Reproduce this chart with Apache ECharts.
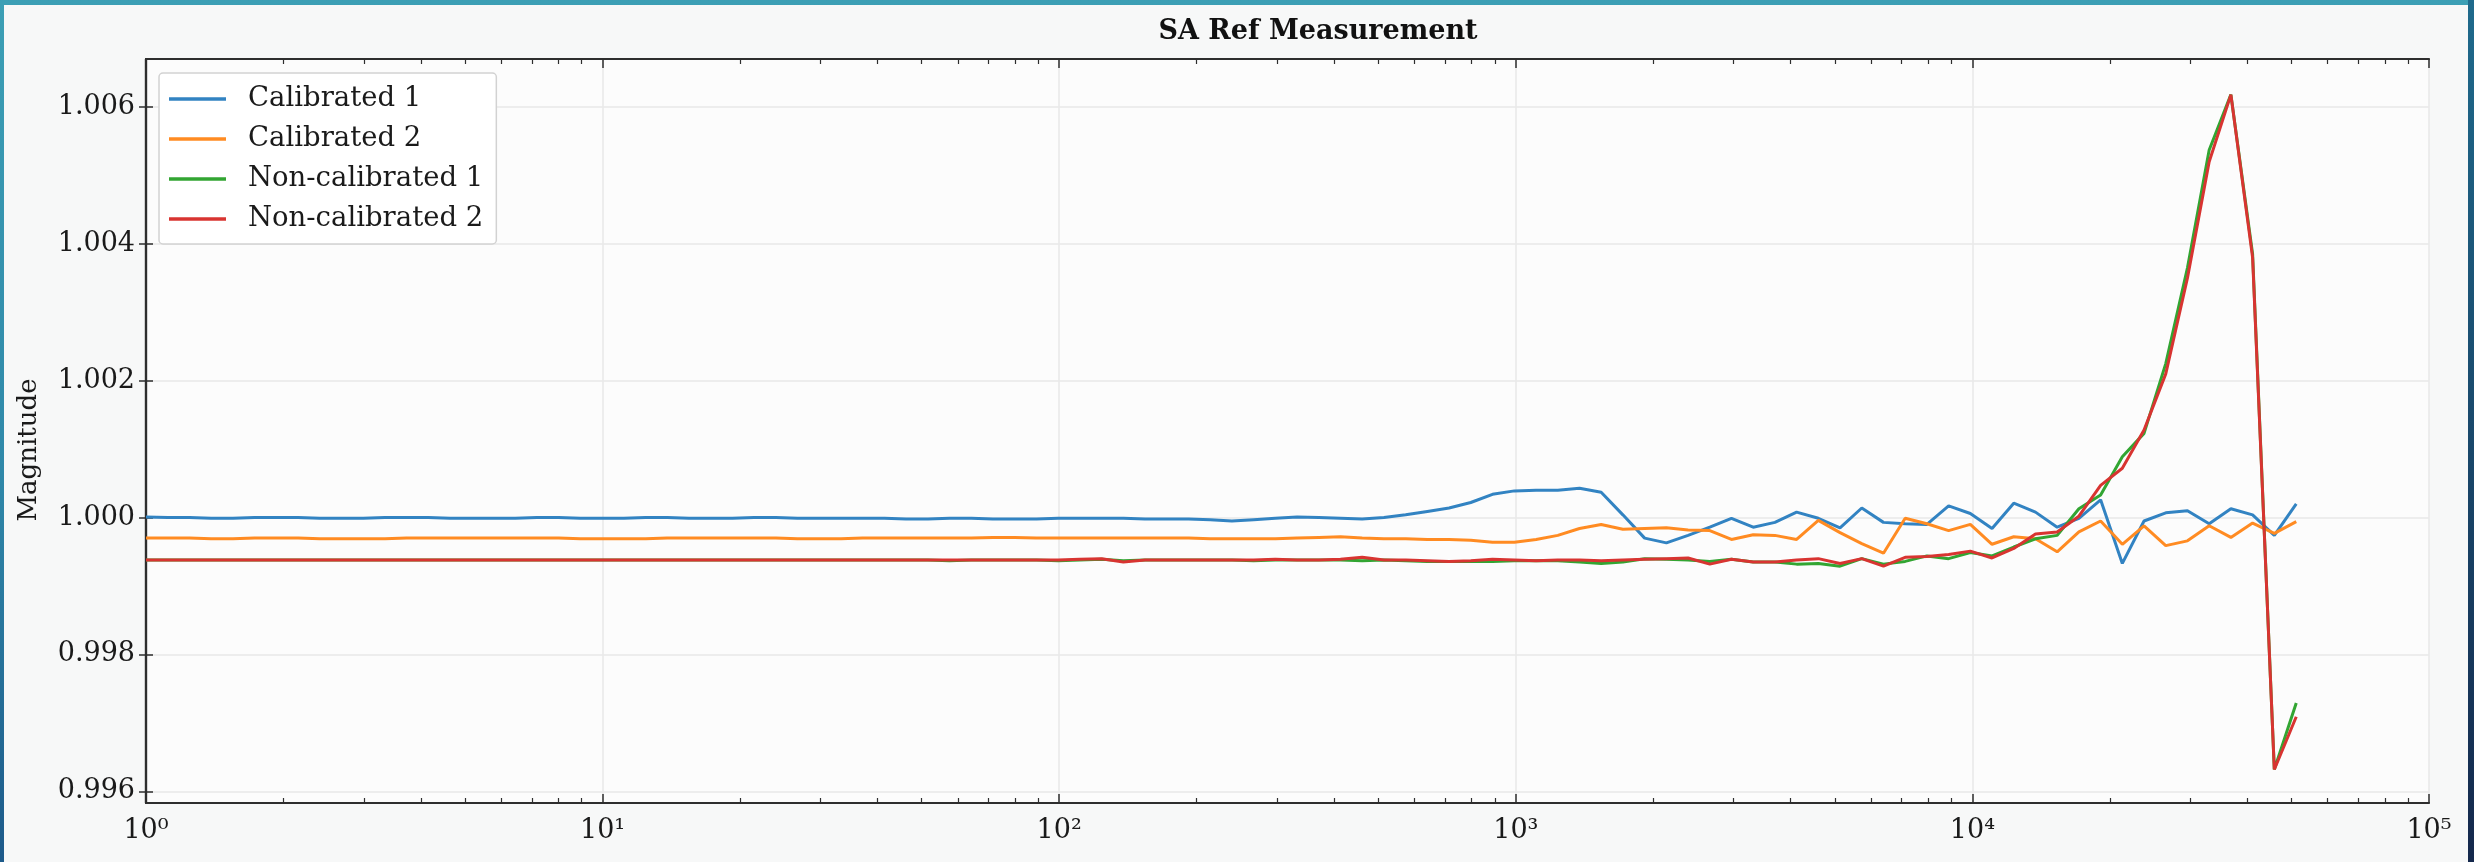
<!DOCTYPE html>
<html>
<head>
<meta charset="utf-8">
<script src="https://cdn.jsdelivr.net/npm/echarts@6/dist/echarts.min.js"></script>
<style>
html,body{margin:0;padding:0;width:2474px;height:862px;overflow:hidden;
  background:linear-gradient(180deg,#3c9fb5 0%,#2f88a9 55%,#1d5a8a 100%);}
#bg{position:absolute;left:4px;top:5px;right:6px;bottom:0;background:#f7f8f8;}
#rband{position:absolute;right:0;top:0;width:6px;height:862px;background:linear-gradient(180deg,#1f6a8c,#14284c);}
#chart{position:absolute;left:0;top:0;width:2474px;height:862px;}
</style>
</head>
<body>
<div id="rband"></div>
<div id="bg"></div>
<div id="chart"></div>
<script>
// ---------- DATA ----------
const seriesNames = ['Calibrated 1', 'Calibrated 2', 'Non-calibrated 1', 'Non-calibrated 2'];

const frequencies = [
  1, 1.116, 1.245, 1.389, 1.550, 1.729, 1.929, 2.153, 2.402, 2.680,
  2.990, 3.336, 3.722, 4.152, 4.633, 5.169, 5.767, 6.434, 7.179, 8.010,
  8.937, 9.976, 11.13, 12.42, 13.86, 15.46, 17.25, 19.24, 21.47, 23.95,
  26.73, 29.82, 33.27, 37.12, 41.41, 46.21, 51.55, 57.52, 64.17, 71.60,
  79.88, 89.13, 99.51, 111.0, 123.9, 138.2, 154.2, 172.0, 192.0, 214.2,
  238.9, 266.6, 297.4, 331.9, 370.3, 413.1, 460.9, 514.3, 573.8, 640.2,
  714.2, 796.9, 889.1, 992.7, 1108, 1236, 1379, 1538, 1716, 1915,
  2137, 2384, 2660, 2967, 3311, 3694, 4121, 4598, 5130, 5724,
  6386, 7125, 7950, 8870, 9896, 11041, 12319, 13745, 15335, 17110,
  19090, 21299, 23763, 26513, 29581, 33004, 36823, 41084, 45838, 51200
];

const calibrated1 = [
  1.00001, 1.00000, 1.00000, 0.99999, 0.99999, 1.00000, 1.00000, 1.00000, 0.99999, 0.99999,
  0.99999, 1.00000, 1.00000, 1.00000, 0.99999, 0.99999, 0.99999, 0.99999, 1.00000, 1.00000,
  0.99999, 0.99999, 0.99999, 1.00000, 1.00000, 0.99999, 0.99999, 0.99999, 1.00000, 1.00000,
  0.99999, 0.99999, 0.99999, 0.99999, 0.99999, 0.99998, 0.99998, 0.99999, 0.99999, 0.99998,
  0.99998, 0.99998, 0.99999, 0.99999, 0.99999, 0.99999, 0.99998, 0.99998, 0.99998, 0.99997,
  0.99995, 0.99997, 0.99999, 1.00001, 1.00000, 0.99999, 0.99998, 1.00000, 1.00004, 1.00009,
  1.00014, 1.00022, 1.00034, 1.00039, 1.00040, 1.00040, 1.00043, 1.00037, 1.00004, 0.99970,
  0.99963, 0.99974, 0.99986, 0.99999, 0.99986, 0.99993, 1.00008, 0.99999, 0.99985, 1.00014,
  0.99993, 0.99991, 0.99990, 1.00017, 1.00006, 0.99984, 1.00021, 1.00008, 0.99986, 0.99999,
  1.00026, 0.99933, 0.99995, 1.00007, 1.00010, 0.99991, 1.00013, 1.00004, 0.99974, 1.00020
];

const calibrated2 = [
  0.99970, 0.99970, 0.99970, 0.99969, 0.99969, 0.99970, 0.99970, 0.99970, 0.99969, 0.99969,
  0.99969, 0.99969, 0.99970, 0.99970, 0.99970, 0.99970, 0.99970, 0.99970, 0.99970, 0.99970,
  0.99969, 0.99969, 0.99969, 0.99969, 0.99970, 0.99970, 0.99970, 0.99970, 0.99970, 0.99970,
  0.99969, 0.99969, 0.99969, 0.99970, 0.99970, 0.99970, 0.99970, 0.99970, 0.99970, 0.99971,
  0.99971, 0.99970, 0.99970, 0.99970, 0.99970, 0.99970, 0.99970, 0.99970, 0.99970, 0.99969,
  0.99969, 0.99969, 0.99969, 0.99970, 0.99971, 0.99972, 0.99970, 0.99969, 0.99969, 0.99968,
  0.99968, 0.99967, 0.99964, 0.99964, 0.99968, 0.99974, 0.99984, 0.99990, 0.99983, 0.99984,
  0.99985, 0.99982, 0.99981, 0.99968, 0.99975, 0.99974, 0.99968, 0.99996, 0.99978, 0.99962,
  0.99948, 0.99999, 0.99991, 0.99981, 0.99990, 0.99961, 0.99972, 0.99969, 0.99950, 0.99979,
  0.99995, 0.99961, 0.99988, 0.99959, 0.99966, 0.99988, 0.99971, 0.99992, 0.99977, 0.99994
];

const nonCalibrated1 = [
  0.99938, 0.99938, 0.99938, 0.99938, 0.99938, 0.99938, 0.99938, 0.99938, 0.99938, 0.99938,
  0.99938, 0.99938, 0.99938, 0.99938, 0.99938, 0.99938, 0.99938, 0.99938, 0.99938, 0.99938,
  0.99938, 0.99938, 0.99938, 0.99938, 0.99938, 0.99938, 0.99938, 0.99938, 0.99938, 0.99938,
  0.99938, 0.99938, 0.99938, 0.99938, 0.99938, 0.99938, 0.99938, 0.99937, 0.99938, 0.99938,
  0.99938, 0.99938, 0.99937, 0.99938, 0.99939, 0.99937, 0.99938, 0.99938, 0.99938, 0.99938,
  0.99938, 0.99937, 0.99938, 0.99938, 0.99938, 0.99938, 0.99937, 0.99938, 0.99937, 0.99936,
  0.99936, 0.99936, 0.99936, 0.99937, 0.99937, 0.99937, 0.99935, 0.99933, 0.99935, 0.99940,
  0.99939, 0.99938, 0.99936, 0.99939, 0.99935, 0.99935, 0.99932, 0.99933, 0.99929, 0.99940,
  0.99932, 0.99936, 0.99944, 0.99940, 0.99949, 0.99944, 0.99957, 0.99969, 0.99974, 1.00013,
  1.00033, 1.00089, 1.00123, 1.00225, 1.00365, 1.00537, 1.00618, 1.00385, 0.99632, 0.99729
];

const nonCalibrated2 = [
  0.99938, 0.99938, 0.99938, 0.99938, 0.99938, 0.99938, 0.99938, 0.99938, 0.99938, 0.99938,
  0.99938, 0.99938, 0.99938, 0.99938, 0.99938, 0.99938, 0.99938, 0.99938, 0.99938, 0.99938,
  0.99938, 0.99938, 0.99938, 0.99938, 0.99938, 0.99938, 0.99938, 0.99938, 0.99938, 0.99938,
  0.99938, 0.99938, 0.99938, 0.99938, 0.99938, 0.99938, 0.99938, 0.99938, 0.99938, 0.99938,
  0.99938, 0.99938, 0.99938, 0.99939, 0.99940, 0.99935, 0.99938, 0.99938, 0.99938, 0.99938,
  0.99938, 0.99938, 0.99939, 0.99938, 0.99938, 0.99939, 0.99942, 0.99938, 0.99938, 0.99937,
  0.99936, 0.99937, 0.99939, 0.99938, 0.99937, 0.99938, 0.99938, 0.99937, 0.99938, 0.99939,
  0.99940, 0.99941, 0.99932, 0.99939, 0.99935, 0.99935, 0.99938, 0.99940, 0.99933, 0.99940,
  0.99929, 0.99942, 0.99943, 0.99946, 0.99951, 0.99941, 0.99955, 0.99976, 0.99979, 1.00002,
  1.00047, 1.00072, 1.00128, 1.00210, 1.00350, 1.00520, 1.00618, 1.00380, 0.99632, 0.99709
];

const yTickValues = [0.996, 0.998, 1.000, 1.002, 1.004, 1.006];
const xMinorTickValues = [
  2, 3, 4, 5, 6, 7, 8, 9,
  20, 30, 40, 50, 60, 70, 80, 90,
  200, 300, 400, 500, 600, 700, 800, 900,
  2000, 3000, 4000, 5000, 6000, 7000, 8000, 9000,
  20000, 30000, 40000, 50000, 60000, 70000, 80000, 90000
];
const seriesColors = ['#3283c2', '#ff8b22', '#32a532', '#d83431'];

// ---------- CHART ----------
const FONT = 'DejaVu Serif';
const SUP = {'0':'\u2070','1':'\u00b9','2':'\u00b2','3':'\u00b3','4':'\u2074','5':'\u2075'};
const chart = echarts.init(document.getElementById('chart'), null, {renderer: 'canvas'});

const seriesValues = [calibrated1, calibrated2, nonCalibrated1, nonCalibrated2];
const minorPos = xMinorTickValues.map(v => Math.log10(v));

const axisColor = '#2e2e2e';

const option = {
  backgroundColor: 'transparent',
  animation: false,
  title: {
    text: 'SA Ref Measurement',
    left: 1313, top: 13, textAlign: 'center',
    textStyle: {fontFamily: FONT, fontSize: 27, fontWeight: 'bold', color: '#111'}
  },
  grid: {left: 146, right: 45, top: 59, bottom: 59, show: true, backgroundColor: '#fcfcfc', borderWidth: 0},
  legend: {
    data: seriesNames,
    orient: 'vertical', left: 159, top: 73,
    icon: 'rect', itemWidth: 57, itemHeight: 3.5, itemGap: 12,
    padding: [12, 13, 11, 10],
    backgroundColor: '#ffffff', borderColor: '#d2d2d2', borderWidth: 1.5, borderRadius: 4,
    textStyle: {fontFamily: FONT, fontSize: 27.5, color: '#1a1a1a', lineHeight: 26, padding: [0, 0, 0, 17]}
  },
  xAxis: [
    {
      type: 'log', logBase: 10, min: 1, max: 100000, position: 'bottom',
      axisLine: {show: true, lineStyle: {color: axisColor, width: 2.2}},
      axisTick: {show: true, inside: true, length: 9, lineStyle: {color: axisColor, width: 1.5}},
      axisLabel: {
        fontFamily: FONT, fontSize: 27, color: '#1a1a1a', margin: 14,
        formatter: v => '10' + SUP[String(Math.round(Math.log10(v)))]
      },
      splitLine: {show: true, lineStyle: {color: '#e8e8e8', width: 1.5}},
      minorTick: {show: false}
    },
    {
      type: 'log', logBase: 10, min: 1, max: 100000, position: 'top',
      axisLine: {show: true, lineStyle: {color: axisColor, width: 2.2}},
      axisTick: {show: true, inside: true, length: 9, lineStyle: {color: axisColor, width: 1.5}},
      axisLabel: {show: false}, splitLine: {show: false}
    },
    {
      type: 'value', min: 0, max: 5, position: 'bottom',
      axisLine: {show: false},
      axisTick: {show: true, inside: true, length: 5, customValues: minorPos, lineStyle: {color: axisColor, width: 1.2}},
      axisLabel: {show: false}, splitLine: {show: false}
    },
    {
      type: 'value', min: 0, max: 5, position: 'top',
      axisLine: {show: false},
      axisTick: {show: true, inside: true, length: 5, customValues: minorPos, lineStyle: {color: axisColor, width: 1.2}},
      axisLabel: {show: false}, splitLine: {show: false}
    }
  ],
  yAxis: [
    {
      type: 'value', min: 0.99583, max: 1.0067, position: 'left',
      name: 'Magnitude', nameLocation: 'middle', nameGap: 104, nameRotate: 90,
      nameTextStyle: {fontFamily: FONT, fontSize: 26, color: '#1a1a1a', padding: [0, 38, 0, 0]},
      axisLine: {show: true, lineStyle: {color: axisColor, width: 2.2}},
      axisTick: {show: true, inside: true, length: 7, customValues: yTickValues, lineStyle: {color: axisColor, width: 1.5}},
      axisLabel: {
        customValues: yTickValues, fontFamily: FONT, fontSize: 27, color: '#1a1a1a', margin: 11,
        formatter: v => v.toFixed(3)
      },
      splitLine: {show: true, lineStyle: {color: '#e8e8e8', width: 1.5}}
    },
    {
      type: 'value', min: 0.99583, max: 1.0067, position: 'right',
      axisLine: {show: true, lineStyle: {color: axisColor, width: 2.2}},
      axisTick: {show: true, inside: true, length: 7, customValues: yTickValues, lineStyle: {color: axisColor, width: 1.5}},
      axisLabel: {show: false}, splitLine: {show: false}
    }
  ],
  series: seriesNames.map((name, k) => ({
    name: name,
    type: 'line',
    xAxisIndex: 0, yAxisIndex: 0,
    showSymbol: false, symbol: 'none',
    color: seriesColors[k],
    lineStyle: {width: 3, color: seriesColors[k]},
    data: frequencies.map((f, i) => [f, seriesValues[k][i]]),
    z: 3 + k
  }))
};
chart.setOption(option);
</script>
</body>
</html>
